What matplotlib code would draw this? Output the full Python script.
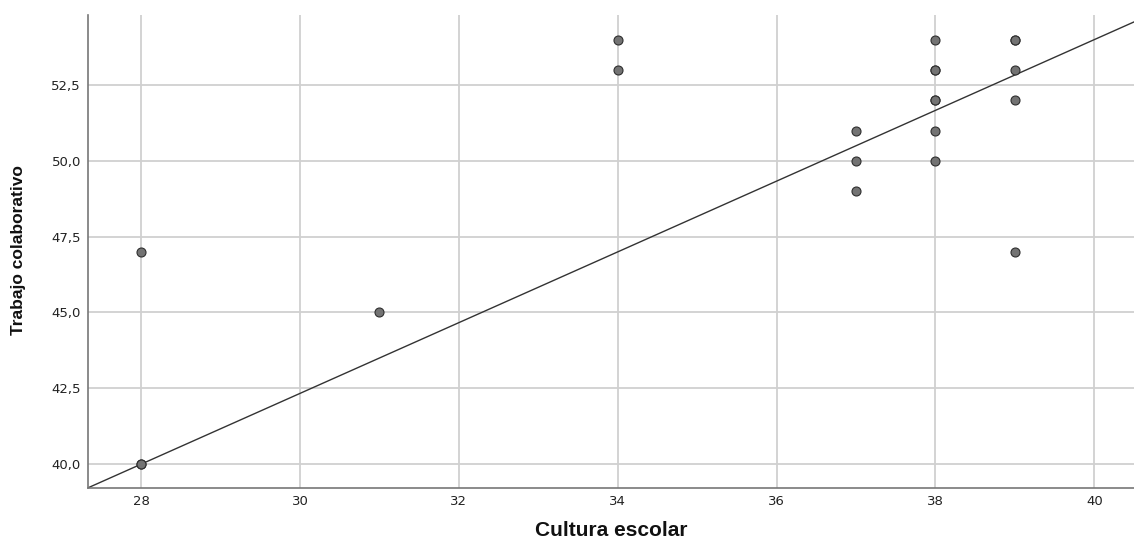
import matplotlib
matplotlib.use("Agg")
import matplotlib.pyplot as plt
import numpy as np
from matplotlib.ticker import FixedLocator, FuncFormatter

# Data (repeated points are overlapping cases)
cultura_escolar = [28, 28, 28, 31, 34, 34, 37, 37, 37, 38, 38, 38, 38, 38, 38, 38,
                   39, 39, 39, 39, 39]
trabajo_colaborativo = [40, 40, 47, 45, 53, 54, 49, 50, 51, 50, 51, 52, 52, 53, 53, 54,
                        47, 52, 53, 54, 54]

# Fit line (linear fit shown in the reference)
fit_intercept = 7.33
fit_slope = 1.1667

x_ticks = [28, 30, 32, 34, 36, 38, 40]
y_ticks = [40.0, 42.5, 45.0, 47.5, 50.0, 52.5]

x_label = "Cultura escolar"
y_label = "Trabajo colaborativo"

plt.rcParams['font.family'] = ['DejaVu Sans']

W, H = 1134, 542
fig = plt.figure(figsize=(W / 100, H / 100), dpi=100)
ax = fig.add_axes([88 / W, (H - 488) / H, 1 - 88 / W, (488 - 15) / H])

xlim = (27.33, 40.5)
ylim = (39.21, 54.81)
ax.set_xlim(*xlim)
ax.set_ylim(*ylim)

ax.set_axisbelow(True)
ax.grid(True, color='#d0d0d0', linewidth=1.3)

xs = np.array(xlim)
ax.plot(xs, fit_intercept + fit_slope * xs, color='#333333', linewidth=1.0, zorder=2)

ax.scatter(cultura_escolar, trabajo_colaborativo, s=42, facecolor='#737373',
           edgecolor='#2e2e2e', linewidth=0.8, zorder=3, clip_on=False)

ax.xaxis.set_major_locator(FixedLocator(x_ticks))
ax.yaxis.set_major_locator(FixedLocator(y_ticks))
ax.xaxis.set_major_formatter(FuncFormatter(lambda v, p: f"{v:.0f}"))
ax.yaxis.set_major_formatter(FuncFormatter(lambda v, p: f"{v:.1f}".replace('.', ',')))
ax.tick_params(axis='both', length=0, labelsize=9.5, labelcolor='#222222')
ax.tick_params(axis='y', pad=5)
ax.tick_params(axis='x', pad=5)

for side in ['top', 'right']:
    ax.spines[side].set_visible(False)
for side in ['left', 'bottom']:
    ax.spines[side].set_color('#777777')
    ax.spines[side].set_linewidth(1.2)

fig.text(611 / W, 1.5 / H, x_label, ha='center', va='bottom',
         fontsize=15, fontweight='bold', color='#111111', family='Liberation Sans')
fig.text(19 / W, 1 - 250 / H, y_label, ha='center', va='center', rotation=90,
         fontsize=12.5, fontweight='bold', color='#111111', family='Liberation Sans')

fig.savefig("out.png", dpi=100)
